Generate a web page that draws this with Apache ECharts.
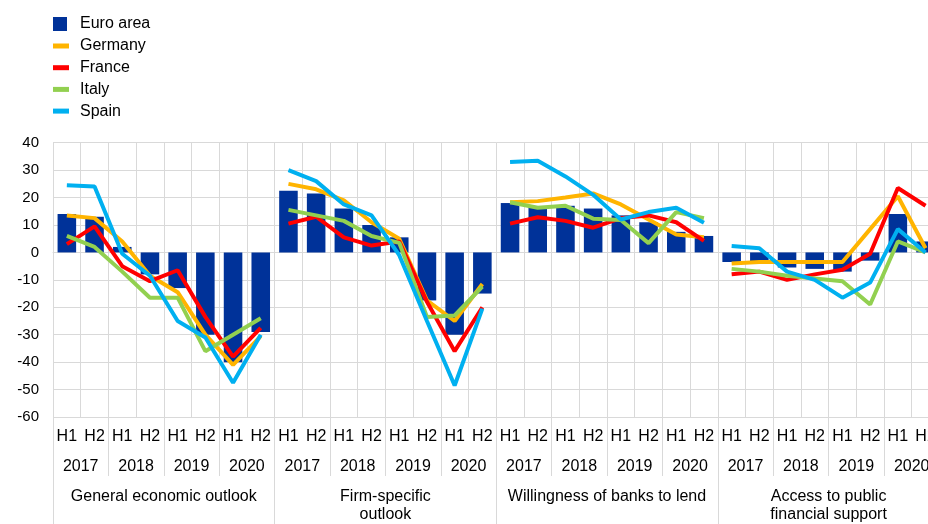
<!DOCTYPE html>
<html>
<head>
<meta charset="utf-8">
<script src="https://cdn.jsdelivr.net/npm/echarts@6/dist/echarts.min.js"></script>
<style>
  html, body { margin: 0; padding: 0; background: #fff; overflow: hidden; }
  #chart { width: 945px; height: 524px; }
</style>
</head>
<body>
<div id="chart"></div>
<script>
// ---- Data ----
const halfYears = ['H1','H2','H1','H2','H1','H2','H1','H2',
                   'H1','H2','H1','H2','H1','H2','H1','H2',
                   'H1','H2','H1','H2','H1','H2','H1','H2',
                   'H1','H2','H1','H2','H1','H2','H1','H2'];
const years = ['2017','2018','2019','2020','2017','2018','2019','2020',
               '2017','2018','2019','2020','2017','2018','2019','2020'];
const groups = ['General economic outlook', 'Firm-specific\noutlook',
                'Willingness of banks to lend', 'Access to public\nfinancial support'];

const euroArea = [14, 13, 2, -8, -13, -30, -40, -29,
                  22.5, 21.5, 16, 10, 5.5, -17.5, -30, -15,
                  18, 16.5, 17, 16, 13.5, 11, 7.5, 6,
                  -3.5, -3.5, -5.5, -6, -7, -3, 14, 4];
const germany  = [13.5, 12.5, 4, -8.5, -14.5, -30, -41, -30.5,
                  25, 23, 19, 11, 5, -17.5, -25, -11.5,
                  18.3, 18.7, 20, 21.5, 17.5, 12, 6.5, 5.5,
                  -4, -3.5, -3.5, -3.5, -3.5, 8.5, 20.5, 1.5];
const france   = [3, 9.5, -5, -10.5, -6.5, -23.5, -38, -27.5,
                  10.5, 13, 5.5, 2.5, 4, -18, -36, -20,
                  10.5, 12.8, 11.5, 9, 12.5, 13.5, 11, 4.2,
                  -8, -7, -10, -8, -6.3, -0.5, 23.5, 17];
const italy    = [6, 2, -7, -16.5, -16.5, -36, -30, -24,
                  15.5, 13.5, 11.5, 6, 3.5, -23.5, -23, -12.5,
                  18.3, 16.3, 17, 12.3, 11.8, 3.4, 14.7, 12.5,
                  -6, -7, -8.5, -9.5, -10.5, -19, 4, 0];
const spain    = [24.5, 24, -0.5, -8.5, -25, -31, -47.5, -30,
                  30, 26, 17.5, 13.5, -1, -25, -48.5, -20.5,
                  33, 33.4, 27.7, 21, 12, 14.7, 16.3, 10.8,
                  2.3, 1.5, -7, -10, -16.5, -11, 8.5, 0];

// ---- Styling ----
const FONT = 'Arial, "Liberation Sans", sans-serif';
const GRID = '#d9d9d9';
const countries = [
  { name: 'Germany', data: germany, color: '#ffb400' },
  { name: 'France',  data: france,  color: '#ff0000' },
  { name: 'Italy',   data: italy,   color: '#92d050' },
  { name: 'Spain',   data: spain,   color: '#00b0f0' }
];

const series = [{
  name: 'Euro area',
  type: 'bar',
  xAxisIndex: 0,
  data: euroArea,
  barWidth: '67%',
  itemStyle: { color: '#003299' },
  z: 1
}];

countries.forEach(function (c) {
  for (let g = 0; g < 4; g++) {
    const seg = c.data.map(function (v, i) {
      return (i >= g * 8 && i < g * 8 + 8) ? v : null;
    });
    series.push({
      name: c.name,
      type: 'line',
      xAxisIndex: 0,
      data: seg,
      symbol: 'none',
      showSymbol: false,
      connectNulls: false,
      itemStyle: { color: c.color },
      lineStyle: { color: c.color, width: 4 },
      z: 3
    });
  }
});

const chart = echarts.init(document.getElementById('chart'), null, { renderer: 'canvas' });
chart.setOption({
  animation: false,
  textStyle: { fontFamily: FONT },
  legend: [{
    data: ['Euro area'],
    orient: 'vertical',
    left: 53, top: 16, padding: 0,
    icon: 'rect', itemWidth: 14, itemHeight: 14,
    selectedMode: false,
    textStyle: { fontFamily: FONT, fontSize: 16, color: '#000', lineHeight: 16, padding: [0, 0, 0, 8] }
  }, {
    data: countries.map(function (c) { return c.name; }),
    orient: 'vertical',
    left: 53, top: 38, padding: 0,
    icon: 'rect', itemWidth: 16, itemHeight: 5, itemGap: 5.7,
    selectedMode: false,
    textStyle: { fontFamily: FONT, fontSize: 16, color: '#000', lineHeight: 16, padding: [0, 0, 0, 6] }
  }],
  grid: { left: 53, top: 142.7, width: 886.4, height: 276.6, containLabel: false },
  xAxis: [{
    type: 'category',
    position: 'bottom',
    data: halfYears,
    boundaryGap: true,
    axisLine: { show: true, lineStyle: { color: GRID, width: 1 } },
    axisTick: { show: false },
    axisLabel: { interval: 0, margin: 12, fontSize: 16, color: '#000', fontFamily: FONT },
    splitLine: { show: true, interval: 0, lineStyle: { color: GRID, width: 1 } }
  }, {
    type: 'category',
    position: 'bottom',
    data: years,
    boundaryGap: true,
    axisLine: { show: false },
    axisTick: { show: true, interval: 0, length: 59, lineStyle: { color: GRID, width: 1 } },
    axisLabel: { interval: 0, margin: 42, fontSize: 16, color: '#000', fontFamily: FONT },
    splitLine: { show: false }
  }, {
    type: 'category',
    position: 'bottom',
    data: groups,
    boundaryGap: true,
    axisLine: { show: false },
    axisTick: { show: true, interval: 0, length: 120, lineStyle: { color: GRID, width: 1 } },
    axisLabel: { interval: 0, margin: 71, fontSize: 16, lineHeight: 18, color: '#000', fontFamily: FONT },
    splitLine: { show: false }
  }],
  yAxis: {
    type: 'value',
    min: -60, max: 40, interval: 10,
    axisLine: { show: true, lineStyle: { color: GRID } },
    axisTick: { show: false },
    axisLabel: { fontSize: 15, color: '#000', margin: 14, fontFamily: FONT },
    splitLine: { show: true, lineStyle: { color: GRID, width: 1 } }
  },
  series: series
});
</script>
</body>
</html>
